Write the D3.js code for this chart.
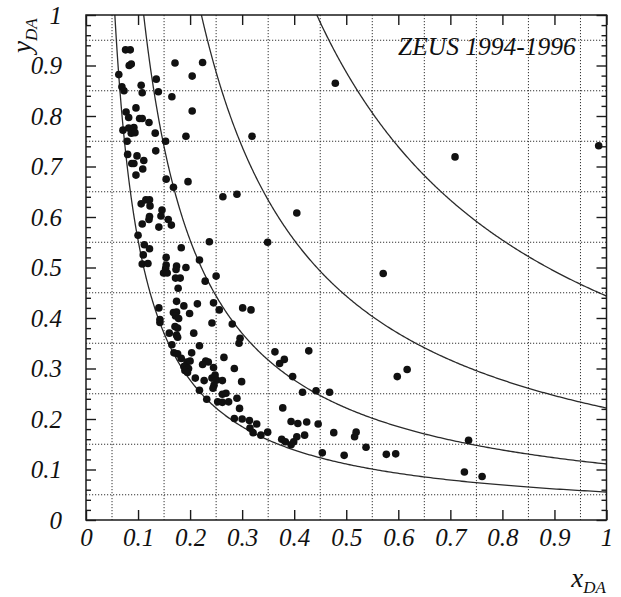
<!DOCTYPE html>
<html>
<head>
<meta charset="utf-8">
<script src="https://cdn.jsdelivr.net/npm/d3@7"></script>
<style>
  html, body { margin: 0; padding: 0; background: #fff; }
  svg text { font-family: "Liberation Serif", "Times New Roman", Times, serif; font-style: italic; fill: #111; }
</style>
</head>
<body>
<svg id="chart" width="621" height="597"></svg>
<script>
// Event kinematics (double-angle method)
const xDA = [
  0.076, 0.085, 0.083, 0.087, 0.063, 0.069, 0.073, 0.106, 0.108, 0.135,
  0.139, 0.171, 0.224, 0.204, 0.165, 0.204, 0.077, 0.082, 0.096, 0.103,
  0.108, 0.121, 0.071, 0.082, 0.087, 0.092, 0.094, 0.079, 0.133, 0.153,
  0.192, 0.319, 0.080, 0.098, 0.088, 0.092, 0.111, 0.109, 0.134, 0.096,
  0.154, 0.168, 0.196, 0.263, 0.290, 0.479, 0.709, 0.985, 0.106, 0.115,
  0.122, 0.123, 0.108, 0.121, 0.122, 0.146, 0.144, 0.158, 0.140, 0.164,
  0.100, 0.112, 0.122, 0.110, 0.108, 0.119, 0.183, 0.154, 0.154, 0.153,
  0.149, 0.156, 0.174, 0.173, 0.192, 0.172, 0.181, 0.177, 0.237, 0.218,
  0.229, 0.250, 0.349, 0.405, 0.174, 0.140, 0.188, 0.214, 0.245, 0.168,
  0.174, 0.172, 0.178, 0.142, 0.142, 0.199, 0.301, 0.317, 0.256, 0.171,
  0.176, 0.160, 0.174, 0.176, 0.207, 0.242, 0.281, 0.165, 0.218, 0.296,
  0.294, 0.169, 0.176, 0.203, 0.183, 0.194, 0.200, 0.230, 0.235, 0.224,
  0.265, 0.188, 0.197, 0.190, 0.195, 0.245, 0.285, 0.363, 0.372, 0.381,
  0.397, 0.428, 0.571, 0.617, 0.598, 0.210, 0.227, 0.242, 0.248, 0.251,
  0.262, 0.299, 0.218, 0.246, 0.244, 0.262, 0.269, 0.232, 0.253, 0.262,
  0.274, 0.290, 0.295, 0.285, 0.300, 0.314, 0.328, 0.315, 0.321, 0.336,
  0.349, 0.416, 0.378, 0.394, 0.407, 0.424, 0.376, 0.383, 0.394, 0.399,
  0.405, 0.420, 0.442, 0.468, 0.446, 0.476, 0.454, 0.516, 0.519, 0.538,
  0.496, 0.577, 0.595, 0.735, 0.727, 0.761
];
const yDA = [
  0.931, 0.931, 0.900, 0.903, 0.882, 0.858, 0.850, 0.861, 0.846, 0.873,
  0.848, 0.905, 0.906, 0.879, 0.838, 0.810, 0.808, 0.797, 0.816, 0.795,
  0.795, 0.787, 0.772, 0.776, 0.766, 0.777, 0.767, 0.750, 0.766, 0.750,
  0.760, 0.760, 0.724, 0.721, 0.706, 0.706, 0.712, 0.695, 0.731, 0.683,
  0.675, 0.659, 0.670, 0.640, 0.645, 0.865, 0.719, 0.741, 0.626, 0.634,
  0.634, 0.622, 0.586, 0.595, 0.601, 0.614, 0.602, 0.595, 0.580, 0.584,
  0.564, 0.545, 0.537, 0.525, 0.507, 0.508, 0.539, 0.520, 0.505, 0.498,
  0.489, 0.489, 0.503, 0.496, 0.500, 0.479, 0.479, 0.459, 0.551, 0.515,
  0.473, 0.483, 0.550, 0.608, 0.433, 0.420, 0.424, 0.428, 0.430, 0.411,
  0.412, 0.404, 0.399, 0.397, 0.391, 0.409, 0.420, 0.416, 0.416, 0.383,
  0.380, 0.370, 0.366, 0.362, 0.370, 0.390, 0.388, 0.347, 0.345, 0.360,
  0.350, 0.331, 0.329, 0.331, 0.320, 0.313, 0.315, 0.315, 0.313, 0.308,
  0.322, 0.304, 0.300, 0.296, 0.292, 0.302, 0.300, 0.333, 0.310, 0.318,
  0.284, 0.335, 0.488, 0.298, 0.284, 0.281, 0.276, 0.281, 0.287, 0.277,
  0.276, 0.274, 0.257, 0.267, 0.261, 0.249, 0.251, 0.239, 0.234, 0.233,
  0.234, 0.241, 0.221, 0.201, 0.200, 0.197, 0.190, 0.182, 0.173, 0.168,
  0.174, 0.253, 0.222, 0.195, 0.191, 0.194, 0.160, 0.155, 0.149, 0.155,
  0.165, 0.168, 0.256, 0.253, 0.190, 0.173, 0.133, 0.165, 0.174, 0.144,
  0.128, 0.130, 0.131, 0.158, 0.095, 0.086
];

// Lines of constant Q^2 (GeV^2), y = Q^2 / (s x)
const q2Lines = [5000, 10000, 20000, 40000];
const sCM = 90200; // 4 * 27.5 GeV * 820 GeV

const majorTicks = [0, 0.1, 0.2, 0.3, 0.4, 0.5, 0.6, 0.7, 0.8, 0.9, 1];
const tickLabels = ["0", "0.1", "0.2", "0.3", "0.4", "0.5", "0.6", "0.7", "0.8", "0.9", "1"];
const yMinorTicks = [0.02, 0.04, 0.06, 0.08, 0.12, 0.14, 0.16, 0.18, 0.22, 0.24, 0.26, 0.28,
  0.32, 0.34, 0.36, 0.38, 0.42, 0.44, 0.46, 0.48, 0.52, 0.54, 0.56, 0.58, 0.62, 0.64, 0.66, 0.68,
  0.72, 0.74, 0.76, 0.78, 0.82, 0.84, 0.86, 0.88, 0.92, 0.94, 0.96, 0.98];
const gridValues = [0.05, 0.15, 0.25, 0.35, 0.45, 0.55, 0.65, 0.75, 0.85, 0.95];
const titleText = "ZEUS 1994-1996";

const serif = '"Liberation Serif", "Times New Roman", Times, serif';
const svg = d3.select("#chart");
const x = d3.scaleLinear().domain([0, 1]).range([86, 606.5]);
const y = d3.scaleLinear().domain([0, 1]).range([520, 15]);
const [x0, x1] = x.range();
const [y0, y1] = y.range();
const ink = "#1a1a1a";

// dotted grid
const grid = svg.append("g").attr("stroke", "#333").attr("stroke-width", 1)
  .attr("stroke-dasharray", "1.2,1.8");
grid.selectAll("line.gx").data(gridValues).join("line").attr("class", "gx")
  .attr("x1", d => x(d)).attr("x2", d => x(d)).attr("y1", y1).attr("y2", y0);
grid.selectAll("line.gy").data(gridValues).join("line").attr("class", "gy")
  .attr("y1", d => y(d)).attr("y2", d => y(d)).attr("x1", x0).attr("x2", x1);

// clip for curves and markers
svg.append("clipPath").attr("id", "plotArea").append("rect")
  .attr("x", x0).attr("y", y1).attr("width", x1 - x0).attr("height", y0 - y1);

// iso-Q2 curves
const line = d3.line().x(d => x(d[0])).y(d => y(d[1]));
const curves = svg.append("g").attr("clip-path", "url(#plotArea)");
q2Lines.forEach(q2 => {
  const c = q2 / sCM;
  const pts = d3.range(0, 401).map(i => {
    const xv = c * Math.pow(1 / c, i / 400);
    return [xv, c / xv];
  });
  curves.append("path").datum(pts).attr("d", line)
    .attr("fill", "none").attr("stroke", "#2a2a2a").attr("stroke-width", 1.3);
});

// events
svg.append("g").attr("clip-path", "url(#plotArea)")
  .selectAll("circle").data(d3.range(xDA.length)).join("circle")
  .attr("cx", i => x(xDA[i])).attr("cy", i => y(yDA[i])).attr("r", 3.8)
  .attr("fill", "#111");

// axes with inward ticks
const fmt = d => tickLabels[majorTicks.indexOf(d)] || "";
const styleAxis = g => {
  g.attr("font-family", serif);
  g.select(".domain").remove();
  g.selectAll(".tick line").attr("stroke", ink).attr("stroke-width", 1.4);
  g.selectAll(".tick text").style("font-size", "25px").attr("fill", "#111");
};
svg.append("g").attr("transform", `translate(0,${y0})`)
  .call(d3.axisBottom(x).tickValues(majorTicks).tickSize(-10).tickPadding(8).tickFormat(fmt))
  .call(styleAxis);
svg.append("g").attr("transform", `translate(0,${y1})`)
  .call(d3.axisTop(x).tickValues(majorTicks).tickSize(-10).tickFormat(""))
  .call(styleAxis);
svg.append("g").attr("transform", `translate(${x0},0)`)
  .call(d3.axisLeft(y).tickValues(majorTicks).tickSize(-10).tickPadding(24).tickFormat(fmt))
  .call(styleAxis);
svg.append("g").attr("transform", `translate(${x1},0)`)
  .call(d3.axisRight(y).tickValues(majorTicks).tickSize(-10).tickFormat(""))
  .call(styleAxis);
svg.append("g").attr("transform", `translate(${x0},0)`)
  .call(d3.axisLeft(y).tickValues(yMinorTicks).tickSize(-5).tickFormat(""))
  .call(styleAxis);
svg.append("g").attr("transform", `translate(${x1},0)`)
  .call(d3.axisRight(y).tickValues(yMinorTicks).tickSize(-5).tickFormat(""))
  .call(styleAxis);

// frame
svg.append("rect").attr("x", x0).attr("y", y1).attr("width", x1 - x0).attr("height", y0 - y1)
  .attr("fill", "none").attr("stroke", ink).attr("stroke-width", 1.5);

// experiment label
svg.append("text").attr("x", 398).attr("y", 55).attr("font-family", serif)
  .style("font-size", "25.5px").text(titleText);

// axis titles
const xt = svg.append("text").attr("x", 606).attr("y", 587).attr("text-anchor", "end")
  .attr("font-family", serif);
xt.append("tspan").style("font-size", "27px").text("x");
xt.append("tspan").style("font-size", "17px").attr("dy", 6).text("DA");

const yt = svg.append("text").attr("transform", "translate(31,53) rotate(-90)")
  .attr("font-family", serif);
yt.append("tspan").style("font-size", "27px").text("y");
yt.append("tspan").style("font-size", "17px").attr("dy", 6).text("DA");
</script>
</body>
</html>
